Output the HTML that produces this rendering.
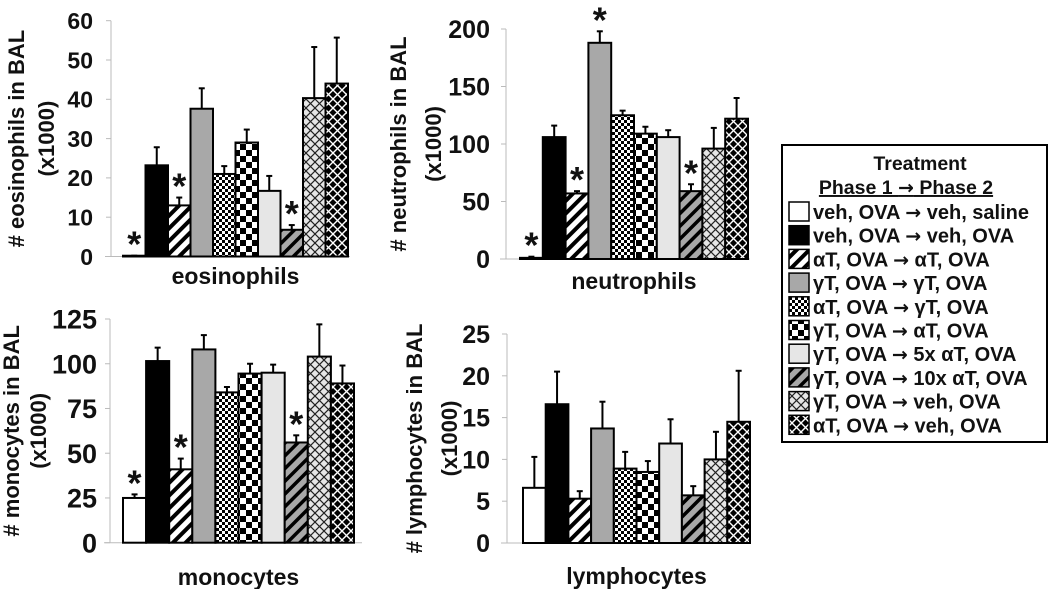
<!DOCTYPE html>
<html><head><meta charset="utf-8"><style>
html,body{margin:0;padding:0;background:#fff;}
svg text{font-family:"Liberation Sans",Arial,sans-serif;font-weight:bold;fill:#111;}
.arr{font-family:"DejaVu Sans",sans-serif;}
</style></head><body>
<svg id="chart" width="1050" height="589" viewBox="0 0 1050 589" xmlns="http://www.w3.org/2000/svg">
<defs>
<pattern id="p-white" width="4" height="4" patternUnits="userSpaceOnUse"><rect width="4" height="4" fill="#fff"/></pattern>
<pattern id="p-black" width="4" height="4" patternUnits="userSpaceOnUse"><rect width="4" height="4" fill="#000"/></pattern>
<pattern id="p-stripe" width="9" height="9" patternUnits="userSpaceOnUse" patternTransform="rotate(45)"><rect width="9" height="9" fill="#fff"/><rect width="4" height="9" fill="#000"/></pattern>
<pattern id="p-gray" width="4" height="4" patternUnits="userSpaceOnUse"><rect width="4" height="4" fill="#a8a8a8"/></pattern>
<pattern id="p-smallcheck" width="6" height="6" patternUnits="userSpaceOnUse"><rect width="6" height="6" fill="#fff"/><rect width="3" height="3" fill="#000"/><rect x="3" y="3" width="3" height="3" fill="#000"/></pattern>
<pattern id="p-bigcheck" width="12" height="12" patternUnits="userSpaceOnUse"><rect width="12" height="12" fill="#fff"/><rect width="6" height="6" fill="#000"/><rect x="6" y="6" width="6" height="6" fill="#000"/></pattern>
<pattern id="p-light" width="4" height="4" patternUnits="userSpaceOnUse"><rect width="4" height="4" fill="#e6e6e6"/></pattern>
<pattern id="p-graystripe" width="9" height="9" patternUnits="userSpaceOnUse" patternTransform="rotate(45)"><rect width="9" height="9" fill="#a8a8a8"/><rect width="3.5" height="9" fill="#000"/></pattern>
<pattern id="p-lightcross" width="9" height="9" patternUnits="userSpaceOnUse"><rect width="9" height="9" fill="#e6e6e6"/><path d="M0 0L9 9M9 0L0 9" stroke="#222" stroke-width="1.2"/></pattern>
<pattern id="p-darkcross" width="9" height="9" patternUnits="userSpaceOnUse"><rect width="9" height="9" fill="#000"/><path d="M0 0L9 9M9 0L0 9" stroke="#fff" stroke-width="1.4"/></pattern>
</defs>
<g id="panels"></g>
<g id="legend"></g>
</svg>
<script>
const groups = [["veh, OVA","veh, saline"],["veh, OVA","veh, OVA"],["αT, OVA","αT, OVA"],["γT, OVA","γT, OVA"],["αT, OVA","γT, OVA"],["γT, OVA","αT, OVA"],["γT, OVA","5x αT, OVA"],["γT, OVA","10x αT, OVA"],["γT, OVA","veh, OVA"],["αT, OVA","veh, OVA"]];
const fills = ["p-white","p-black","p-stripe","p-gray","p-smallcheck","p-bigcheck","p-light","p-graystripe","p-lightcross","p-darkcross"];

const eosValues = [0.2, 23.2, 13, 37.6, 21, 29, 16.7, 6.8, 40.3, 44];
const eosErrors = [0.2, 27.8, 15, 42.8, 23, 32.3, 20.5, 8, 53.3, 55.7];
const eosStars = [1,0,1,0,0,0,0,1,0,0];
const eosTicks = [0,10,20,30,40,50,60];

const neuValues = [1, 106, 57, 188, 125, 109, 106, 59, 96, 122];
const neuErrors = [2, 116, 59, 198, 129, 115, 112, 65, 114, 140];
const neuStars = [1,0,1,1,0,0,0,1,0,0];
const neuTicks = [0,50,100,150,200];

const monValues = [25, 101.5, 41, 108, 84, 94.5, 95, 56, 104, 89];
const monErrors = [27, 109, 47, 116, 87, 100, 99.5, 60, 122, 99];
const monStars = [1,0,1,0,0,0,0,1,0,0];
const monTicks = [0,25,50,75,100,125];

const lymValues = [6.6, 16.6, 5.3, 13.7, 8.9, 8.5, 11.9, 5.7, 10, 14.5];
const lymErrors = [10.3, 20.5, 6.2, 16.9, 10.9, 9.8, 14.8, 6.8, 13.3, 20.6];
const lymStars = [0,0,0,0,0,0,0,0,0,0];
const lymTicks = [0,5,10,15,20,25];

const NS="http://www.w3.org/2000/svg";
function mk(tag, attrs, parent){const e=document.createElementNS(NS,tag);for(const k in attrs)e.setAttribute(k,attrs[k]);parent.appendChild(e);return e;}

const panels=[
 {key:"eos",cat:"eosinophils",title:"# eosinophils in BAL",vals:eosValues,errs:eosErrors,stars:eosStars,ticks:eosTicks,ax:111,tr:93,fs:23,y0:256.5,yTop:20.7,x0:123,bw:22.5,right:350,catY:284,tx:16,ux:46},
 {key:"neu",cat:"neutrophils",title:"# neutrophils in BAL",vals:neuValues,errs:neuErrors,stars:neuStars,ticks:neuTicks,ax:506,tr:490,fs:25,y0:259,yTop:29,x0:520,bw:22.8,right:750,catY:289,tx:398,ux:433},
 {key:"mon",cat:"monocytes",title:"# monocytes in BAL",vals:monValues,errs:monErrors,stars:monStars,ticks:monTicks,ax:110,tr:97,fs:27,y0:542.7,yTop:319,x0:123,bw:23.1,right:362,catY:585,tx:11,ux:38},
 {key:"lym",cat:"lymphocytes",title:"# lymphocytes in BAL",vals:lymValues,errs:lymErrors,stars:lymStars,ticks:lymTicks,ax:507,tr:490,fs:25,y0:543,yTop:334,x0:523,bw:22.7,right:750,catY:584,tx:414,ux:449}
];
const root=document.getElementById('panels');
panels.forEach(p=>{
  const g=mk('g',{},root);
  
  
  const tmax=p.ticks[p.ticks.length-1];
  const y=v=>p.y0-(v/tmax)*(p.y0-p.yTop);
  const ax=mk('line',{x1:p.ax,y1:p.yTop,x2:p.ax,y2:p.y0,stroke:'#bbb','stroke-width':1},g);
  
  
  const xa=mk('line',{x1:p.ax-6,y1:p.y0,x2:p.right,y2:p.y0,stroke:'#bbb','stroke-width':1},g);
  
  
  p.ticks.forEach(t=>{
    mk('line',{x1:p.ax-5,y1:y(t),x2:p.ax,y2:y(t),stroke:'#bbb'},g);
    const tl=mk('text',{x:p.tr,y:y(t)+p.fs*0.36,'text-anchor':'end','font-size':p.fs},g);
    tl.textContent=t;
    
    
  });
  const cy=(p.y0+p.yTop)/2;
  const t1=mk('text',{x:p.tx,y:cy,'text-anchor':'middle','font-size':22,transform:`rotate(-90 ${p.tx} ${cy})`,dy:8},g);
  t1.textContent=p.title;
  
  
  const t2=mk('text',{x:p.ux,y:cy,'text-anchor':'middle','font-size':22,transform:`rotate(-90 ${p.ux} ${cy})`,dy:8},g);
  t2.textContent='(x1000)';
  
  
  p.vals.forEach((v,i)=>{
    const x=p.x0+i*p.bw, cx=x+p.bw/2;
    const e=mk('line',{x1:cx,y1:y(p.errs[i]),x2:cx,y2:y(v),stroke:'#000','stroke-width':2},g);
    
    
    mk('line',{x1:cx-3,y1:y(p.errs[i]),x2:cx+3,y2:y(p.errs[i]),stroke:'#000','stroke-width':2},g);
    const b=mk('rect',{x:x,y:y(v),width:p.bw,height:Math.max(0.5,p.y0-y(v)),fill:`url(#${fills[i]})`,stroke:'#000','stroke-width':2},g);
    
    
    if(p.stars[i]){
      const s=mk('text',{x:cx,y:y(p.errs[i])+1,'text-anchor':'middle','font-size':36},g);
      s.textContent='*';
      
      
    }
  });
  const c=mk('text',{x:(p.x0+p.x0+10*p.bw)/2,y:p.catY,'text-anchor':'middle','font-size':23},g);
  c.textContent=p.cat;
  
  
});
// legend
const lg=document.getElementById('legend');
mk('rect',{x:782,y:145,width:265,height:297,fill:'#fff',stroke:'#000','stroke-width':2},lg);
const lt=mk('text',{x:920,y:170,'text-anchor':'middle','font-size':19.5},lg);
lt.textContent='Treatment';


const ls=mk('text',{x:906,y:194,'text-anchor':'middle','font-size':19.5,'text-decoration':'underline'},lg);
ls.innerHTML='Phase 1 <tspan class="arr" font-size="19">→</tspan> Phase 2';


groups.forEach((n,i)=>{
  const yy=202+i*23.7;
  const e=mk('g',{},lg);
  
  
  mk('rect',{x:789,y:yy,width:20,height:19,fill:`url(#${fills[i]})`,stroke:'#000','stroke-width':1.5},e);
  const t=mk('text',{x:813,y:yy+17,'font-size':20},e);
  t.innerHTML=n[0]+' <tspan class="arr" font-size="19">→</tspan> '+n[1];
});
</script>
</body></html>
